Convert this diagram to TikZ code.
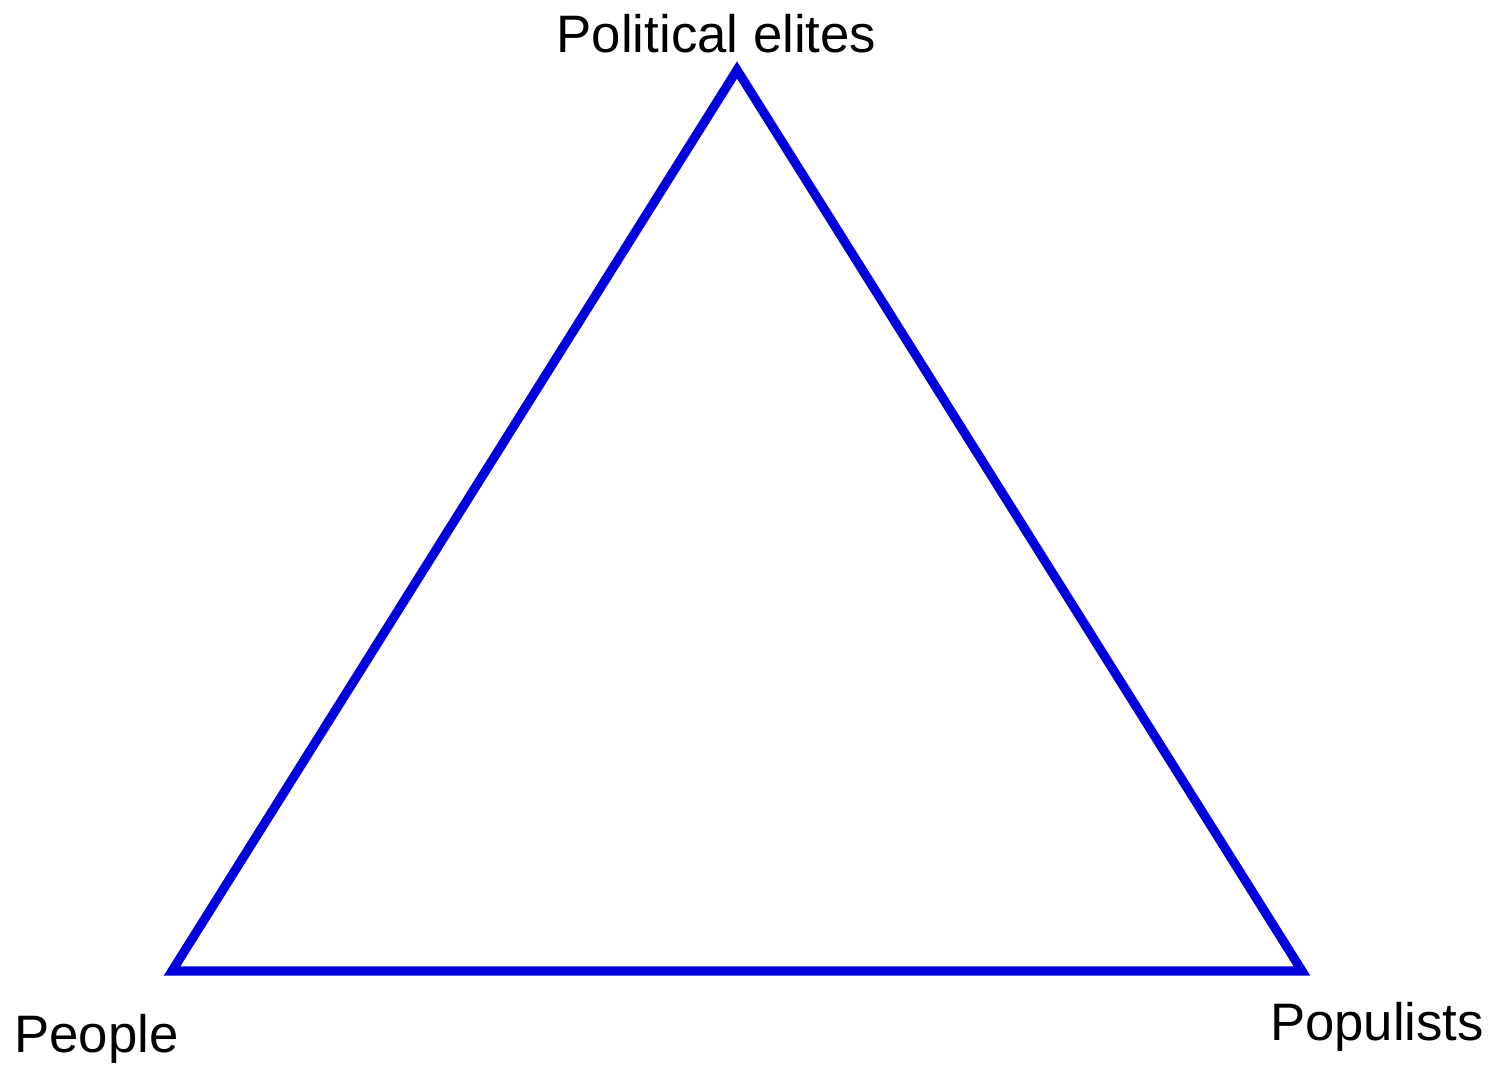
\documentclass[tikz,border=0pt]{standalone}
\usepackage{fontspec}
\setmainfont{Liberation Sans}
\definecolor{triblue}{RGB}{0,0,220}
\begin{document}
\begin{tikzpicture}[font=\fontsize{15pt}{18pt}\selectfont,
  edge/.style={draw=triblue, line width=2.6pt, line join=miter},
  label/.style={anchor=base, inner sep=0pt}]
\useasboundingbox (0,0) rectangle (14.95,10.72);
% corners of the triangle
\coordinate (elites) at (7.37,10.02);
\coordinate (people) at (1.72,1.01);
\coordinate (populists) at (13.02,1.01);
\draw[edge] (people) -- (elites) -- (populists) -- cycle;
% labels
\node[label] (elitesname) at (7.165,10.19) {Political elites};
\node[label] (peoplename) at (0.965,0.19) {People};
\node[label] (populistsname) at (13.77,0.31) {Populists};
\end{tikzpicture}
\end{document}
